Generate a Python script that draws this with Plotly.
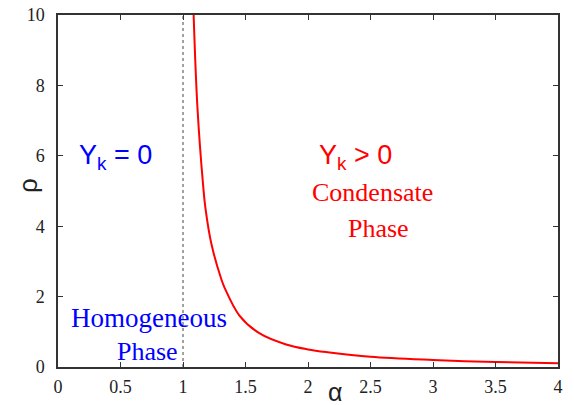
import plotly.graph_objects as go

# Critical density curve
alpha = [1.085, 1.115, 1.16, 1.18, 1.227, 1.306, 1.333, 1.45, 1.61, 1.825, 2.0, 2.157, 2.5, 3.0, 3.5, 4.0]
rho = [10.0, 7.4, 5.2, 4.5, 3.5, 2.5, 2.25, 1.47, 0.96, 0.64, 0.5, 0.42, 0.29, 0.2, 0.14, 0.103]

boundary_alpha = [1, 1]
boundary_rho = [0, 10]

x_ticks = [0, 0.5, 1, 1.5, 2, 2.5, 3, 3.5, 4]
x_ticklabels = ["0", "0.5", "1", "1.5", "2", "2.5", "3", "3.5", "4"]
y_ticks = [0, 2, 4, 6, 8, 10]

fig = go.Figure()
fig.add_trace(go.Scatter(x=boundary_alpha, y=boundary_rho, mode="lines",
                         line=dict(color="#444444", width=1, dash="dot"),
                         showlegend=False, hoverinfo="skip"))
fig.add_trace(go.Scatter(x=alpha, y=rho, mode="lines",
                         line=dict(color="red", width=2, shape="spline", smoothing=1.0),
                         showlegend=False))

axis_common = dict(showgrid=False, zeroline=False, showline=True, linecolor="#333333",
                   linewidth=1.5, mirror="ticks", ticks="inside", ticklen=5,
                   tickcolor="#333333", tickwidth=1, automargin=False,
                   ticklabeloverflow="allow",
                   tickfont=dict(family="Liberation Serif", size=18, color="#222222"))

fig.update_xaxes(range=[0, 4], tickvals=x_ticks, ticktext=x_ticklabels,
                 ticklabelstandoff=3, **axis_common)
fig.update_yaxes(range=[0, 10], tickvals=y_ticks, ticklabelstandoff=8, **axis_common)

sans = "Liberation Sans"
serif = "Liberation Serif"
ann = [
    dict(text="Y<sub>k</sub> = 0", x=115, y=157, font=dict(family=sans, size=27, color="blue")),
    dict(text="Y<sub>k</sub> > 0", x=355, y=157, font=dict(family=sans, size=27, color="red")),
    dict(text="Condensate", x=372, y=192, font=dict(family=serif, size=26, color="red")),
    dict(text="Phase", x=378, y=228, font=dict(family=serif, size=26, color="red")),
    dict(text="Homogeneous", x=149, y=318, font=dict(family=serif, size=27, color="blue")),
    dict(text="Phase", x=147, y=351, font=dict(family=serif, size=26, color="blue")),
    dict(text="α", x=335, y=392, font=dict(family=sans, size=25, color="#222222")),
    dict(text="ρ", x=28, y=186, textangle=-90, font=dict(family=sans, size=26, color="#222222")),
]
annotations = []
for a in ann:
    d = dict(xref="paper", yref="paper", showarrow=False, xanchor="center", yanchor="middle")
    d.update(a)
    # convert page pixel positions to paper coords (plot area: x 58..558, y 15..367)
    d["x"] = (a["x"] - 58) / 500.0
    d["y"] = (367 - a["y"]) / 352.0
    annotations.append(d)

# The page body has an 8px margin, so the figure is offset by 8px right/down.
fig.update_layout(width=566, height=397, margin=dict(l=50, r=16, t=7, b=38),
                  plot_bgcolor="white", paper_bgcolor="white",
                  annotations=annotations)

fig.write_html("out.html")
